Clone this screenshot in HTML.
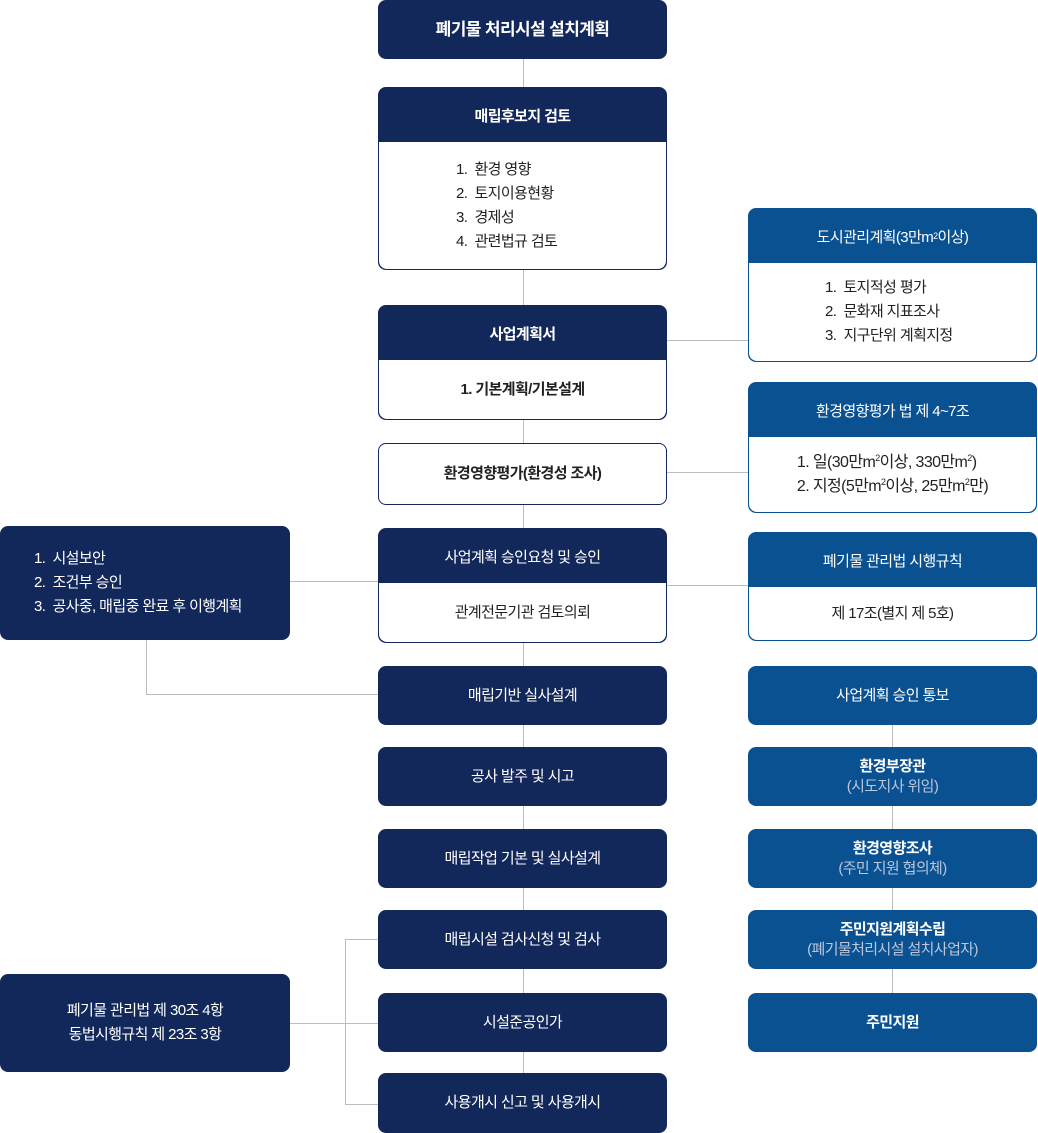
<!DOCTYPE html>
<html><head><meta charset="utf-8"><style>
*{margin:0;padding:0;box-sizing:border-box}
body{width:1038px;height:1133px;position:relative;background:#fff;font-family:"Liberation Sans","Noto Sans CJK KR",sans-serif;letter-spacing:-0.6px;overflow:hidden}
.b{position:absolute;border-radius:8px;overflow:hidden;font-size:15px}
.d{background:#13285a;color:#fff}
.u{background:#0a5192;color:#fff}
.c{display:flex;align-items:center;justify-content:center;text-align:center;flex-direction:column;line-height:20px}
.w{background:#fff;border:1px solid #13285a;color:#222}
.h{display:flex;align-items:center;justify-content:center;color:#fff;font-weight:bold}
.bd{position:absolute;left:0;right:0;bottom:0;background:#fff;display:flex;align-items:center;justify-content:center;color:#222;line-height:24px;border-radius:0 0 8px 8px}
.l{position:absolute;background:#bdbdbd}
.s{color:#b9c6dc;font-weight:normal}
sup{font-size:9px;line-height:0;vertical-align:6px}
b{font-weight:bold}
</style></head><body>
<div class="l" style="left:523px;top:59px;width:1px;height:1020px"></div>
<div class="l" style="left:892px;top:700px;width:1px;height:320px"></div>
<div class="l" style="left:667px;top:340px;width:81px;height:1px"></div>
<div class="l" style="left:667px;top:472px;width:81px;height:1px"></div>
<div class="l" style="left:667px;top:585px;width:81px;height:1px"></div>
<div class="l" style="left:290px;top:581px;width:88px;height:1px"></div>
<div class="l" style="left:146px;top:640px;width:1px;height:55px"></div>
<div class="l" style="left:146px;top:694px;width:232px;height:1px"></div>
<div class="l" style="left:290px;top:1023px;width:88px;height:1px"></div>
<div class="l" style="left:345px;top:939px;width:1px;height:166px"></div>
<div class="l" style="left:345px;top:939px;width:33px;height:1px"></div>
<div class="l" style="left:345px;top:1104px;width:33px;height:1px"></div>

<div class="b d c" style="left:378px;top:0;width:289px;height:59px;font-size:17px;font-weight:bold">폐기물 처리시설 설치계획</div>

<div class="b d" style="left:378px;top:87px;width:289px;height:183px;border:1px solid #13285a">
<div class="h" style="height:54px">매립후보지 검토</div>
<div class="bd" style="top:54px;justify-content:flex-start;padding-left:77px"><div>1.&nbsp; 환경 영향<br>2.&nbsp; 토지이용현황<br>3.&nbsp; 경제성<br>4.&nbsp; 관련법규 검토</div></div></div>

<div class="b d" style="left:378px;top:305px;width:289px;height:115px;border:1px solid #13285a">
<div class="h" style="height:54px">사업계획서</div>
<div class="bd" style="top:54px"><div><b>1. 기본계획/기본설계</b></div></div></div>

<div class="b w c" style="left:378px;top:443px;width:289px;height:62px;font-weight:bold">환경영향평가(환경성 조사)</div>

<div class="b d" style="left:378px;top:528px;width:289px;height:115px;border:1px solid #13285a">
<div class="h" style="height:54px;font-weight:normal">사업계획 승인요청 및 승인</div>
<div class="bd" style="top:54px"><div>관계전문기관 검토의뢰</div></div></div>

<div class="b d c" style="left:378px;top:666px;width:289px;height:59px">매립기반 실사설계</div>
<div class="b d c" style="left:378px;top:747px;width:289px;height:59px">공사 발주 및 시고</div>
<div class="b d c" style="left:378px;top:829px;width:289px;height:59px">매립작업 기본 및 실사설계</div>
<div class="b d c" style="left:378px;top:910px;width:289px;height:59px">매립시설 검사신청 및 검사</div>
<div class="b d c" style="left:378px;top:993px;width:289px;height:59px">시설준공인가</div>
<div class="b d c" style="left:378px;top:1073px;width:289px;height:60px">사용개시 신고 및 사용개시</div>

<div class="b d" style="left:0;top:526px;width:290px;height:114px;display:flex;align-items:center;padding-left:34px;line-height:24px"><div>1.&nbsp; 시설보안<br>2.&nbsp; 조건부 승인<br>3.&nbsp; 공사중, 매립중 완료 후 이행계획</div></div>
<div class="b d c" style="left:0;top:974px;width:290px;height:98px;line-height:24px">폐기물 관리법 제 30조 4항<br>동법시행규칙 제 23조 3항</div>

<div class="b u" style="left:748px;top:208px;width:289px;height:154px;border:1px solid #0a5192">
<div class="h" style="height:54px;font-weight:normal">도시관리계획(3만m<sup>2</sup>이상)</div>
<div class="bd" style="top:54px;justify-content:flex-start;padding-left:76px"><div>1.&nbsp; 토지적성 평가<br>2.&nbsp; 문화재 지표조사<br>3.&nbsp; 지구단위 계획지정</div></div></div>

<div class="b u" style="left:748px;top:382px;width:289px;height:131px;border:1px solid #0a5192">
<div class="h" style="height:54px;font-weight:normal">환경영향평가 법 제 4~7조</div>
<div class="bd" style="top:54px;font-size:16px"><div style="text-align:left">1. 일(30만m<sup>2</sup>이상, 330만m<sup>2</sup>)<br>2. 지정(5만m<sup>2</sup>이상, 25만m<sup>2</sup>만)</div></div></div>

<div class="b u" style="left:748px;top:532px;width:289px;height:109px;border:1px solid #0a5192">
<div class="h" style="height:54px;font-weight:normal">폐기물 관리법 시행규칙</div>
<div class="bd" style="top:54px"><div>제 17조(별지 제 5호)</div></div></div>

<div class="b u c" style="left:748px;top:666px;width:289px;height:59px">사업계획 승인 통보</div>
<div class="b u c" style="left:748px;top:747px;width:289px;height:59px"><b>환경부장관</b><span class="s">(시도지사 위임)</span></div>
<div class="b u c" style="left:748px;top:829px;width:289px;height:59px"><b>환경영향조사</b><span class="s">(주민 지원 협의체)</span></div>
<div class="b u c" style="left:748px;top:910px;width:289px;height:59px"><b>주민지원계획수립</b><span class="s">(폐기물처리시설 설치사업자)</span></div>
<div class="b u c" style="left:748px;top:993px;width:289px;height:59px"><b>주민지원</b></div>
</body></html>
